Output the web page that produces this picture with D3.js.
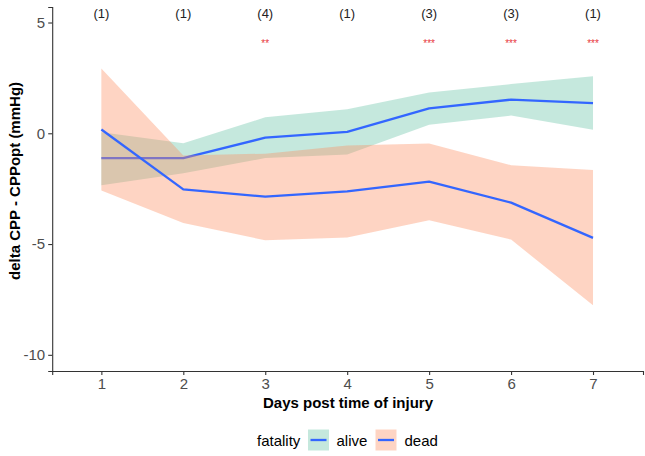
<!DOCTYPE html>
<html><head><meta charset="utf-8">
<script src="https://cdn.jsdelivr.net/npm/d3@7"></script>
<style>body{margin:0;background:#fff}svg{display:block;font-family:"Liberation Sans",Arial,sans-serif}</style>
</head><body><svg id="c" width="645" height="456"></svg>
<script>
const days = [1,2,3,4,5,6,7];
const aliveMean  = [-1.12,-1.12,-0.20,0.06,1.12,1.52,1.36];
const aliveLower = [-2.35,-1.80,-1.12,-0.96,0.38,0.80,0.16];
const aliveUpper = [0.05,-0.45,0.72,1.08,1.84,2.22,2.57];
const deadMean   = [0.17,-2.53,-2.86,-2.62,-2.18,-3.13,-4.72];
const deadLower  = [-2.58,-4.05,-4.83,-4.70,-3.92,-4.80,-7.76];
const deadUpper  = [2.92,-1.00,-0.92,-0.55,-0.46,-1.44,-1.66];
const countLabels = ["(1)","(1)","(4)","(1)","(3)","(3)","(1)"];
const sigLabels   = ["","","**","","***","***","***"];
const yTicks = [5,0,-5,-10];
const groups = ["alive","dead"];
const fills = {alive:"#66c2a5", dead:"#fc8d62"};
const lineColor = "#3366ff";

const svg = d3.select("#c");
const x = d3.scaleLinear().domain([0.4,7.61]).range([52.2,643]);
const y = d3.scaleLinear().domain([-10.73,5.70]).range([371,7]);

const series = {
  alive: days.map((d,i)=>({d, m:aliveMean[i], lo:aliveLower[i], hi:aliveUpper[i]})),
  dead:  days.map((d,i)=>({d, m:deadMean[i], lo:deadLower[i], hi:deadUpper[i]}))
};
const area = d3.area().x(p=>x(p.d)).y0(p=>y(p.lo)).y1(p=>y(p.hi));
const line = d3.line().x(p=>x(p.d)).y(p=>y(p.m));

groups.forEach(g=>{
  svg.append("path").attr("d",area(series[g])).attr("fill",fills[g]).attr("fill-opacity",0.38);
  svg.append("path").attr("d",line(series[g])).attr("fill","none").attr("stroke",lineColor).attr("stroke-width",2.3).attr("stroke-linejoin","round");
});

// axes
const xAxis = svg.append("g").attr("transform","translate(0,371)")
  .call(d3.axisBottom(x).tickValues(days).tickSize(4).tickPadding(3).tickFormat(d3.format("d")));
const yAxis = svg.append("g").attr("transform","translate(52.2,0)")
  .call(d3.axisLeft(y).tickValues(yTicks).tickSize(4).tickPadding(3).tickFormat(d=>d<0?"-"+Math.abs(d):d));
[xAxis,yAxis].forEach(a=>{
  a.select(".domain").attr("stroke","#333").attr("stroke-width",1.1);
  a.selectAll(".tick line").attr("stroke","#333").attr("stroke-width",1.1);
  a.selectAll(".tick text").attr("fill","#4d4d4d").style("font-size","15px").style("font-family","'Liberation Sans',Arial,sans-serif");
});

// annotations
svg.selectAll("text.cnt").data(days).enter().append("text").attr("class","cnt")
  .attr("x",d=>x(d)).attr("y",18).attr("text-anchor","middle")
  .style("font-size","13px").attr("fill","#222").text((d,i)=>countLabels[i]);
svg.selectAll("text.sig").data(days).enter().append("text").attr("class","sig")
  .attr("x",d=>x(d)).attr("y",47).attr("text-anchor","middle")
  .style("font-size","10px").attr("fill","#e8383d").text((d,i)=>sigLabels[i]);

// axis titles
svg.append("text").attr("x",348).attr("y",408).attr("text-anchor","middle")
  .style("font-size","15px").style("font-weight","bold").attr("fill","#000").text("Days post time of injury");
svg.append("text").attr("transform","translate(20,181) rotate(-90)").attr("text-anchor","middle")
  .style("font-size","15px").style("font-weight","bold").attr("fill","#000").text("delta CPP - CPPopt (mmHg)");

// legend
const lg = svg.append("g");
lg.append("text").attr("x",257).attr("y",445.5).style("font-size","15px").attr("fill","#000").text("fatality");
const keys = [{g:"alive",kx:308,tx:336.5},{g:"dead",kx:375.5,tx:404.5}];
keys.forEach(k=>{
  lg.append("rect").attr("x",k.kx).attr("y",429.5).attr("width",21).attr("height",21)
    .attr("fill",fills[k.g]).attr("fill-opacity",0.38);
  lg.append("line").attr("x1",k.kx+2.5).attr("x2",k.kx+18.5).attr("y1",440).attr("y2",440)
    .attr("stroke",lineColor).attr("stroke-width",2.3);
  lg.append("text").attr("x",k.tx).attr("y",445.5).style("font-size","15px").attr("fill","#000").text(k.g);
});
</script></body></html>
